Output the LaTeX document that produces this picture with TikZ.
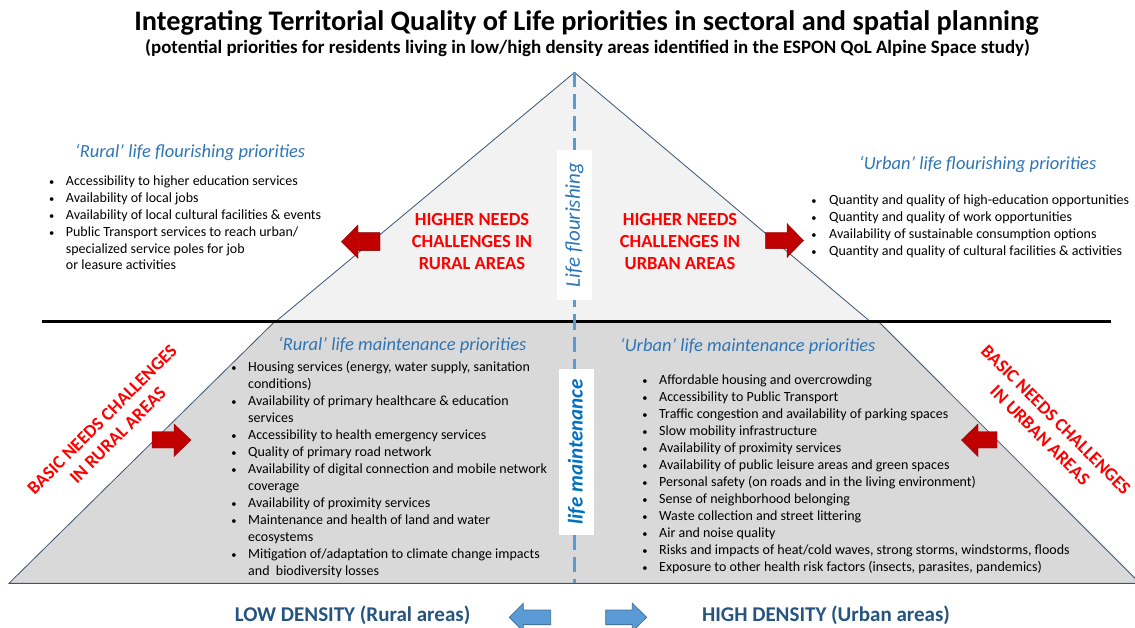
\documentclass[tikz,border=0pt]{standalone}
\usepackage{fontspec}
\setmainfont{Carlito}
\definecolor{edge}{RGB}{60,85,115}
\definecolor{upfill}{RGB}{242,242,242}
\definecolor{lowfill}{RGB}{217,217,217}
\definecolor{dashblue}{RGB}{91,155,213}
\definecolor{headblue}{RGB}{46,117,182}
\definecolor{lmblue}{RGB}{0,112,192}
\definecolor{darkred}{RGB}{192,0,0}
\definecolor{navy}{RGB}{38,84,128}
\definecolor{arrowblue}{RGB}{91,155,213}
\definecolor{arrowedge}{RGB}{65,113,156}
\newcommand\myitem[5]{\node[bul] (#1b) at (#2,#4) {\textbullet}; \node[itm] (#1) at (#3,#4) {#5};}
\newcommand\mycont[4]{\node[itm] (#1) at (#2,#3) {#4};}
\begin{document}
\begin{tikzpicture}[x=1pt,y=-1pt,
  bul/.style={anchor=base, font=\fontsize{10.5}{17}\selectfont, inner sep=0},
  itm/.style={anchor=base west, font=\fontsize{14}{17}\selectfont, inner sep=0},
  sectitle/.style={anchor=base west, font=\fontsize{18.5}{22}\selectfont\itshape, text=headblue, inner sep=0},
  redtxt/.style={font=\fontsize{18.5}{22.3}\selectfont\bfseries, text=red, align=center, inner sep=0},
  redarrow/.style={fill=darkred, draw=darkred!70!black, line width=0.4},
  bluearrow/.style={fill=arrowblue, draw=arrowedge, line width=0.8},
  vbox/.style={rotate=90, fill=white, minimum height=35pt, inner sep=0},
  denslabel/.style={anchor=base, font=\fontsize{21}{25}\selectfont\bfseries, text=navy, inner sep=0}]
\useasboundingbox (0,0) rectangle (1135,628);
% shapes
\filldraw[fill=upfill, draw=edge, line width=0.8] (574.5,72.5) -- (276,321.3) -- (870,321.3) -- cycle;
\filldraw[fill=lowfill, draw=edge, line width=0.8] (275,321.3) -- (878.3,321.3) -- (1140,583.3) -- (9,583.3) -- cycle;
\draw[edge, line width=1.5] (9,583.3) -- (1140,583.3);
\draw[black, line width=2.6] (42,321.3) -- (1111,321.3);
\draw[dashblue, line width=2.5, dash pattern=on 15pt off 7pt] (574.5,72.5) -- (574.5,583);
% titles
\node[anchor=base, font=\fontsize{28.3}{32}\selectfont\bfseries, inner sep=0] (title) at (586.5,30.5) {Integrating Territorial Quality of Life priorities in sectoral and spatial planning};
\node[anchor=base, font=\fontsize{18.9}{22}\selectfont\bfseries, inner sep=0] (subtitle) at (587.5,54) {(potential priorities for residents living in low/high density areas identified in the ESPON QoL Alpine Space study)};
% vertical boxes
\node[vbox, minimum width=150pt, font=\fontsize{21}{25}\selectfont\itshape, text=headblue] (lf) at (574.5,225) {Life flourishing};
\node[vbox, minimum width=166pt, font=\fontsize{21}{25}\selectfont\bfseries\itshape, text=lmblue] (lm) at (576.5,452) {life maintenance};
% section titles
\node[sectitle] (rft) at (75,157.5) {‘Rural’ life flourishing priorities};
\node[sectitle] (uft) at (859,170) {‘Urban’ life flourishing priorities};
\node[sectitle] (rmt) at (278,350.3) {‘Rural’ life maintenance priorities};
\node[sectitle] (umt) at (620,352) {‘Urban’ life maintenance priorities};
% rural flourishing
\myitem{rf1}{51.7}{65.7}{185.5}{Accessibility to higher education services}
\myitem{rf2}{51.7}{65.7}{202.4}{Availability of local jobs}
\myitem{rf3}{51.7}{65.7}{219.3}{Availability of local cultural facilities \& events}
\myitem{rf4}{51.7}{65.7}{236.2}{Public Transport services to reach urban/}
\mycont{rf5}{65.7}{253.1}{specialized service poles for job}
\mycont{rf6}{65.7}{270}{or leasure activities}
% urban flourishing
\myitem{uf1}{814}{829}{205}{Quantity and quality of high-education opportunities}
\myitem{uf2}{814}{829}{221.7}{Quantity and quality of work opportunities}
\myitem{uf3}{814}{829}{238.4}{Availability of sustainable consumption options}
\myitem{uf4}{814}{829}{255.1}{Quantity and quality of cultural facilities \& activities}
% rural maintenance
\myitem{rm1}{234}{248}{371.7}{Housing services (energy, water supply, sanitation}
\mycont{rm2}{248}{388.7}{conditions)}
\myitem{rm3}{234}{248}{405.7}{Availability of primary healthcare \& education}
\mycont{rm4}{248}{422.7}{services}
\myitem{rm5}{234}{248}{439.7}{Accessibility to health emergency services}
\myitem{rm6}{234}{248}{456.7}{Quality of primary road network}
\myitem{rm7}{234}{248}{473.7}{Availability of digital connection and mobile network}
\mycont{rm8}{248}{490.7}{coverage}
\myitem{rm9}{234}{248}{507.7}{Availability of proximity services}
\myitem{rm10}{234}{248}{524.7}{Maintenance and health of land and water}
\mycont{rm11}{248}{541.7}{ecosystems}
\myitem{rm12}{234}{248}{558.7}{Mitigation of/adaptation to climate change impacts}
\mycont{rm13}{248}{575.7}{and\ \ biodiversity losses}
% urban maintenance
\myitem{um1}{645}{659}{384.7}{Affordable housing and overcrowding}
\myitem{um2}{645}{659}{401.7}{Accessibility to Public Transport}
\myitem{um3}{645}{659}{418.7}{Traffic congestion and availability of parking spaces}
\myitem{um4}{645}{659}{435.7}{Slow mobility infrastructure}
\myitem{um5}{645}{659}{452.7}{Availability of proximity services}
\myitem{um6}{645}{659}{469.7}{Availability of public leisure areas and green spaces}
\myitem{um7}{645}{659}{486.7}{Personal safety (on roads and in the living environment)}
\myitem{um8}{645}{659}{503.7}{Sense of neighborhood belonging}
\myitem{um9}{645}{659}{520.7}{Waste collection and street littering}
\myitem{um10}{645}{659}{537.7}{Air and noise quality}
\myitem{um11}{645}{659}{554.7}{Risks and impacts of heat/cold waves, strong storms, windstorms, floods}
\myitem{um12}{645}{659}{571.7}{Exposure to other health risk factors (insects, parasites, pandemics)}
% red texts
\node[redtxt] (hnr) at (472,241.7) {HIGHER NEEDS\\CHALLENGES IN\\RURAL AREAS};
\node[redtxt] (hnu) at (680,241.7) {HIGHER NEEDS\\CHALLENGES IN\\URBAN AREAS};
\node[redtxt, rotate=45] (bnr) at (110,427.5) {BASIC NEEDS CHALLENGES\\IN RURAL AREAS};
\node[redtxt, rotate=-45] (bnu) at (1048,427.5) {BASIC NEEDS CHALLENGES\\IN URBAN AREAS};
% red arrows
\filldraw[redarrow] (380,232.7) -- (358,232.7) -- (358,225) -- (341.4,241.7) -- (358,258.4) -- (358,250.7) -- (380,250.7) -- cycle;
\filldraw[redarrow] (765.6,232.3) -- (787,232.3) -- (787,223.5) -- (803.5,240.5) -- (787,257.5) -- (787,248.7) -- (765.6,248.7) -- cycle;
\filldraw[redarrow] (152,431.5) -- (174,431.5) -- (174,424) -- (191,440) -- (174,456.5) -- (174,448) -- (152,448) -- cycle;
\filldraw[redarrow] (997,431.5) -- (978,431.5) -- (978,424) -- (961.5,440) -- (978,456.5) -- (978,448) -- (997,448) -- cycle;
% bottom labels and arrows
\node[denslabel] (low) at (352.5,621.5) {LOW DENSITY (Rural areas)};
\node[denslabel] (high) at (826,621.5) {HIGH DENSITY (Urban areas)};
\filldraw[bluearrow] (550.7,610) -- (523.3,610) -- (523.3,603.3) -- (509.3,617.3) -- (523.3,631.3) -- (523.3,624.6) -- (550.7,624.6) -- cycle;
\filldraw[bluearrow] (605.7,610) -- (632.3,610) -- (632.3,603.3) -- (646.7,617.3) -- (632.3,631.3) -- (632.3,624.6) -- (605.7,624.6) -- cycle;
\end{tikzpicture}
\end{document}
